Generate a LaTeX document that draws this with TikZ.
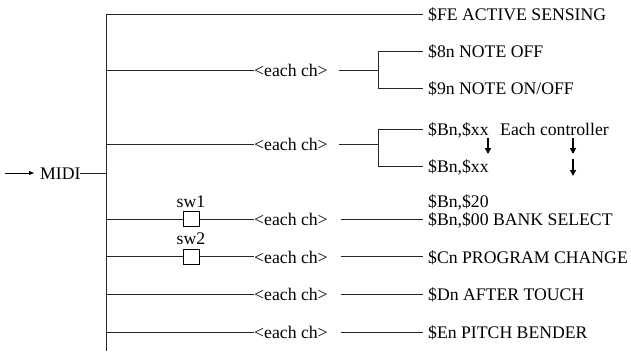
\documentclass[tikz,border=0pt]{standalone}
\usepackage{fontspec}
\setmainfont{Liberation Serif}
\usetikzlibrary{arrows.meta}
\begin{document}
\begin{tikzpicture}[x=1pt,y=-1pt,
  every node/.style={font=\fontsize{17.7}{20}\selectfont},
  lbl/.style={anchor=base west,inner sep=0pt},
  wire/.style={line width=1pt,black!85},
  swbox/.style={draw,line width=1pt,minimum width=16pt,minimum height=15pt,inner sep=0pt},
  bigarrow/.style={line width=2pt,-{Triangle[width=6pt,length=6pt]}},
  inarrow/.style={line width=1pt,-{Triangle[width=4pt,length=5pt]}}]
\useasboundingbox (0,0) rectangle (631,351);
% trunk
\coordinate (ttop) at (106,14);
\coordinate (tbot) at (106,351);
\draw[wire] (ttop) -- (tbot);
% MIDI input
\coordinate (in) at (5,173);
\node[lbl] (midi) at (40,179) {MIDI};
\draw[inarrow] (in) -- (34,173);
\draw[wire] (80,173) -- (106,173);
% row 1
\node[lbl] (fe) at (428,20) {\$FE ACTIVE SENSING};
\draw[wire] (ttop) -- (423,14);
% row 2
\node[lbl] (e2) at (254,76) {<each ch>};
\draw[wire] (106,70) -- (254,70);
\coordinate (b2) at (378,70);
\draw[wire] (339,70) -- (b2);
\draw[wire] (423,51) -- (378,51) -- (378,88) -- (423,88);
\node[lbl] (n8) at (428,57) {\$8n NOTE OFF};
\node[lbl] (n9) at (428,94) {\$9n NOTE ON/OFF};
% row 3
\node[lbl] (e3) at (254,150) {<each ch>};
\draw[wire] (106,144) -- (254,144);
\coordinate (b3) at (378,144);
\draw[wire] (339,144) -- (b3);
\draw[wire] (423,129) -- (378,129) -- (378,166) -- (423,166);
\node[lbl] (bx1) at (428,135) {\$Bn,\$xx};
\node[lbl] (bx2) at (428,172) {\$Bn,\$xx};
\node[lbl] (ec) at (500,135) {Each controller};
\draw[bigarrow] (488,138) -- (488,154);
\draw[bigarrow] (573,138) -- (573,154);
\draw[bigarrow] (573,159) -- (573,176);
% row sw1
\node[swbox] (sw1) at (191,219) {};
\node[lbl,anchor=base] (sw1l) at (191,207) {sw1};
\draw[wire] (106,219) -- (sw1.west);
\node[lbl] (e4) at (254,225) {<each ch>};
\draw[wire] (sw1.east) -- (254,219);
\draw[wire] (341,219) -- (423,219);
\node[lbl] (b20) at (428,207) {\$Bn,\$20};
\node[lbl] (b00) at (428,225) {\$Bn,\$00 BANK SELECT};
% row sw2
\node[swbox] (sw2) at (191,256.5) {};
\node[lbl,anchor=base] (sw2l) at (191,244) {sw2};
\draw[wire] (106,256.5) -- (sw2.west);
\node[lbl] (e5) at (254,263) {<each ch>};
\draw[wire] (sw2.east) -- (254,256.5);
\draw[wire] (341,256.5) -- (423,256.5);
\node[lbl] (cn) at (428,263) {\$Cn PROGRAM CHANGE};
% row Dn
\node[lbl] (e6) at (254,300) {<each ch>};
\draw[wire] (106,294) -- (254,294);
\draw[wire] (341,294) -- (423,294);
\node[lbl] (dn) at (428,300) {\$Dn AFTER TOUCH};
% row En
\node[lbl] (e7) at (254,338) {<each ch>};
\draw[wire] (106,332) -- (254,332);
\draw[wire] (341,332) -- (423,332);
\node[lbl] (en) at (428,338) {\$En PITCH BENDER};
\end{tikzpicture}
\end{document}
